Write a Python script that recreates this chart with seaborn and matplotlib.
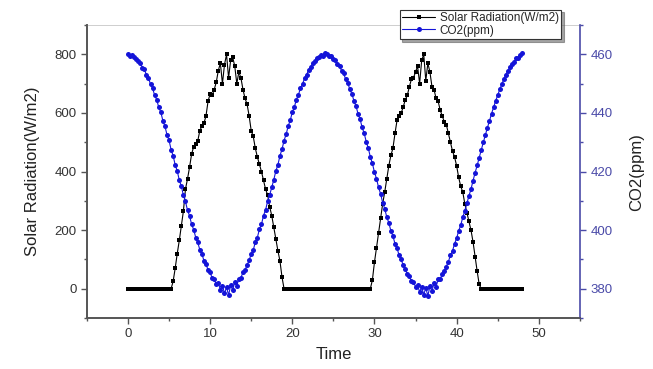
import numpy as np
import matplotlib
matplotlib.use("Agg")
import matplotlib.pyplot as plt
import seaborn as sns

# ---- data (time step 0.25 h, 0..48 h) ----
time_step = 0.25
n_points = 193
time = np.arange(n_points) * time_step

solar_day1_rise = [25, 70, 120, 165, 215, 265, 340, 375, 415, 460,
                   485, 495, 505, 540, 555, 565, 590, 640, 665, 660, 680, 705,
                   745, 770, 700, 765, 800, 720, 780, 790, 760, 700, 740, 720,
                   680, 650, 630, 590, 540, 520, 480, 450, 425, 400, 370, 340,
                   320, 280, 250, 210, 170, 130, 95, 40]
solar_day2_rise = [30,
                   90, 140, 190, 240, 290, 330, 375, 420, 455, 480, 530, 575,
                   590, 600, 620, 645, 660, 690, 715, 720, 740, 760, 700, 780,
                   800, 710, 770, 740, 690, 680, 650, 640, 610, 590, 570, 560,
                   530, 500, 470, 450, 420, 380, 350, 330, 290, 260, 230, 200,
                   160, 110, 60, 15]
solar = [0] * 22 + solar_day1_rise + [0] * 43 + solar_day2_rise + [0] * 21

co2_day1 = [460.2, 459.6, 459.8, 459.0, 458.3, 457.6, 457.2, 455.5, 454.9, 453.0, 451.9, 449.8,
            448.5, 446.0, 444.6, 441.9, 440.3, 437.4, 435.5, 432.6, 430.7, 427.5, 425.4, 422.3,
            420.2, 417.1, 415.0, 411.9, 409.8, 406.8, 404.9, 402.0, 400.2, 397.5, 395.8, 393.3,
            391.9, 389.6, 388.6, 386.3, 385.7, 383.6, 383.4, 381.5, 382.0, 379.6, 381.1, 378.4,
            380.6, 377.8, 381.2, 379.5, 382.3, 381.0, 383.5, 383.8, 385.6, 386.4, 388.1, 389.7,
            391.9, 393.2, 395.9, 397.5, 400.3, 402.0, 405.0, 406.9, 409.9, 412.0, 414.6, 417.2,
            420.2, 422.3, 425.4, 427.6, 430.6, 432.7, 435.5, 437.5, 440.2, 442.0, 444.6, 446.2,
            448.5, 449.9, 451.9, 453.1, 454.8, 455.7, 457.2, 457.7, 458.8, 459.0, 459.9, 459.5,
            460.6]
co2_day2 = [460.0, 459.4, 459.6, 458.4, 458.1, 456.8, 456.1, 454.4, 453.5, 451.5, 450.3, 448.1,
            446.6, 444.2, 442.4, 439.8, 437.9, 435.1, 433.1, 430.2, 428.0, 425.0, 422.8, 419.8,
            417.6, 414.6, 412.4, 409.4, 407.3, 404.5, 402.5, 399.8, 398.0, 395.4, 393.8, 391.5,
            390.1, 388.0, 386.9, 385.0, 384.4, 382.6, 382.4, 380.7, 381.2, 378.9, 380.6, 378.0,
            380.3, 377.6, 380.8, 379.2, 381.9, 380.7, 383.2, 383.3, 385.0, 385.9, 387.6, 389.3,
            391.4, 392.9, 395.4, 397.2, 399.8, 401.7, 404.4, 406.6, 409.2, 411.7, 414.0, 416.9,
            419.6, 422.1, 424.8, 427.4, 430.0, 432.5, 435.0, 437.3, 439.8, 441.9, 444.2, 446.0,
            448.1, 449.8, 451.6, 453.1, 454.5, 455.6, 456.8, 457.4, 458.6, 458.9, 459.8, 460.5]
co2 = co2_day1 + co2_day2

x_ticks = [0, 10, 20, 30, 40, 50]
left_ticks = [0, 200, 400, 600, 800]
right_ticks = [380, 400, 420, 440, 460]

# ---- style ----
sns.set_style("ticks")
plt.rcParams["font.family"] = ["Liberation Sans", "DejaVu Sans"]

fig = plt.figure(figsize=(6.53, 3.69), dpi=100)
ax = fig.add_axes([0.133, 0.138, 0.755, 0.794])
ax2 = ax.twinx()

black_c = "black"
blue_c = "#1414d8"
axis_blue = "#4a4aa8"
gray = "#555555"

sns.lineplot(x=time, y=solar, ax=ax, color=black_c, marker="s", markersize=3.4,
             markeredgewidth=0, linewidth=0.8, label="Solar Radiation(W/m2)", legend=False)
sns.lineplot(x=time, y=co2, ax=ax2, color=blue_c, marker="o", markersize=3.6,
             markeredgewidth=0, linewidth=0.8, label="CO2(ppm)", legend=False)

ax.set_xlim(-5, 55)
ax.set_ylim(-100, 900)
ax2.set_ylim(370, 470)

ax.set_xticks(x_ticks)
ax.set_xticks([-5, 5, 15, 25, 35, 45, 55], minor=True)
ax.set_yticks(left_ticks)
ax.set_yticks([-100, 100, 300, 500, 700, 900], minor=True)
ax2.set_yticks(right_ticks)
ax2.set_yticks([370, 390, 410, 430, 450, 470], minor=True)

ax.set_xlabel("Time", fontsize=12, color="#222222", labelpad=5)
ax.set_ylabel("Solar Radiation(W/m2)", fontsize=12, color="#222222", labelpad=10)
ax2.set_ylabel("CO2(ppm)", fontsize=12, color="#222222", labelpad=12)

for a in (ax, ax2):
    for s in a.spines.values():
        s.set_linewidth(1.2)
        s.set_color(gray)

ax.spines["top"].set_linewidth(0.5)
ax.spines["top"].set_color("#bbbbbb")
ax2.spines["top"].set_visible(False)
ax2.spines["right"].set_color(axis_blue)
ax.spines["right"].set_visible(False)

ax.tick_params(axis="both", which="major", direction="out", length=4, width=1,
               color=gray, labelsize=9.5, labelcolor="#333333")
ax.tick_params(axis="both", which="minor", direction="out", length=2.5, width=1, color=gray)
ax.tick_params(axis="x", top=False, which="both")
ax2.tick_params(axis="y", which="major", direction="out", length=4, width=1,
                color=axis_blue, labelsize=9.5, labelcolor=axis_blue)
ax2.tick_params(axis="y", which="minor", direction="out", length=2.5, width=1, color=axis_blue)

h1, l1 = ax.get_legend_handles_labels()
h2, l2 = ax2.get_legend_handles_labels()
leg = fig.legend(h1 + h2, l1 + l2, loc="upper left", bbox_to_anchor=(0.603, 0.99),
                 fontsize=8.5, frameon=True, fancybox=False, shadow=True,
                 edgecolor="#333333", framealpha=1, borderpad=0.2,
                 labelspacing=0.05, handlelength=2.8, handletextpad=0.4)
leg.get_frame().set_linewidth(0.8)

fig.savefig("out.png", dpi=100)
